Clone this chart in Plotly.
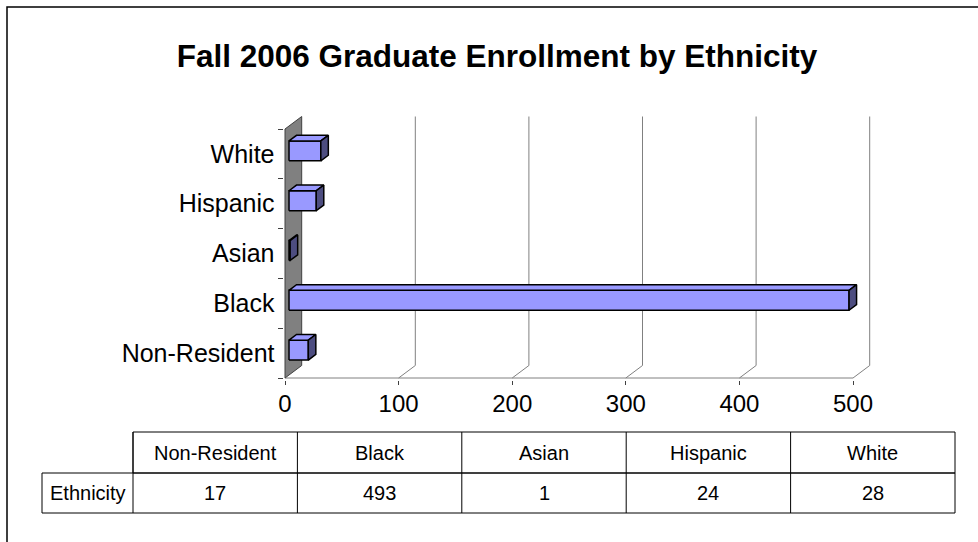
import plotly.graph_objects as go

# data
categories = ["Non-Resident", "Black", "Asian", "Hispanic", "White"]
enrollment = [17, 493, 1, 24, 28]
row_label = "Ethnicity"
x_ticks = [0, 100, 200, 300, 400, 500]
title = "Fall 2006 Graduate Enrollment by Ethnicity"

W, H = 978, 542
FONT = "Liberation Sans, Arial, sans-serif"


def pxx(x):
    return x / W


def pxy(y):
    return 1 - y / H


# pixel frame of the (front) plot area
X0_PX, X500_PX = 285, 853
Y_BOT_PX, Y_TOP_PX = 378, 129
sx = (X500_PX - X0_PX) / 500.0
sy = (Y_BOT_PX - Y_TOP_PX) / len(categories)

L, R = 283.5, 885
B, T = 379.5, 105
x_range = [(L - X0_PX) / sx, (R - X0_PX) / sx]
y_range = [-0.5 - (B - Y_BOT_PX) / sy, -0.5 + (Y_BOT_PX - T) / sy]

# fake 3d depth (in data units)
DX = 16.7 / sx
DY = 12.5 / sy
F1, F2 = 0.24, 0.69
HALF = 0.2

n = len(categories)
y_lo, y_hi = -0.5, n - 0.5

fig = go.Figure()

# floor slants + back gridlines
gx, gy = [], []
for v in x_ticks[1:]:
    gx += [v, v + DX, v + DX, None]
    gy += [y_lo, y_lo + DY, y_hi + DY, None]
fig.add_trace(go.Scatter(x=gx, y=gy, mode="lines",
                         line=dict(color="#808080", width=1), hoverinfo="skip"))

# front baseline
fig.add_trace(go.Scatter(x=[x_ticks[0], x_ticks[-1]], y=[y_lo, y_lo], mode="lines",
                         line=dict(color="#808080", width=1), hoverinfo="skip"))

# side wall
fig.add_trace(go.Scatter(x=[0, DX, DX, 0, 0], y=[y_lo, y_lo + DY, y_hi + DY, y_hi, y_lo],
                         mode="lines", fill="toself", fillcolor="#808080",
                         line=dict(color="#404040", width=1), hoverinfo="skip"))

# bars: front, top and side faces
fx, fy, tx, ty, rx, ry = [], [], [], [], [], []
ox1, oy1 = F1 * DX, F1 * DY
ox2, oy2 = F2 * DX, F2 * DY
for i, v in enumerate(enrollment):
    lo, hi = i - HALF, i + HALF
    fx += [ox1, v + ox1, v + ox1, ox1, ox1, None]
    fy += [lo + oy1, lo + oy1, hi + oy1, hi + oy1, lo + oy1, None]
    tx += [ox1, v + ox1, v + ox2, ox2, ox1, None]
    ty += [hi + oy1, hi + oy1, hi + oy2, hi + oy2, hi + oy1, None]
    rx += [v + ox1, v + ox2, v + ox2, v + ox1, v + ox1, None]
    ry += [lo + oy1, lo + oy2, hi + oy2, hi + oy1, lo + oy1, None]

for xs, ys, col in [(fx, fy, "#9999FF"), (tx, ty, "#9999FF"), (rx, ry, "#4D4D80")]:
    fig.add_trace(go.Scatter(x=xs, y=ys, mode="lines", fill="toself", fillcolor=col,
                             line=dict(color="#000000", width=1.5), hoverinfo="skip"))

fig.update_xaxes(
    domain=[pxx(L), pxx(R)], range=x_range, showgrid=False, zeroline=False,
    showline=False, tickmode="array", tickvals=x_ticks, ticks="outside",
    ticklen=4.5, tickcolor="#404040", tickfont=dict(family=FONT, size=24, color="#000"),
    ticklabelstandoff=-2, automargin=False,
)
fig.update_yaxes(
    domain=[pxy(B), pxy(T)], range=y_range, showgrid=False, zeroline=False,
    showline=False, tickmode="array", tickvals=list(range(n)), ticktext=categories,
    ticks="", tickfont=dict(family=FONT, size=25, color="#000"), ticklabelstandoff=8,
    minor=dict(tickmode="array", tickvals=[k - 0.5 for k in range(n + 1)],
               ticks="outside", ticklen=4.5, tickcolor="#404040", showgrid=False),
    automargin=False,
)

# data table below the chart
col_edges = [133 + k * (955 - 133) / n for k in range(n + 1)]
row_top, row_mid, row_bot = 432, 473, 513
first_left = 42
line = dict(color="#000000", width=1)
shapes = [
    # outer chart border
    dict(type="rect", xref="paper", yref="paper", x0=pxx(7), y0=-0.02, x1=1.02, y1=pxy(7),
         line=dict(color="#000000", width=1.5)),
    dict(type="rect", xref="paper", yref="paper", x0=pxx(col_edges[0]), x1=pxx(col_edges[-1]),
         y0=pxy(row_mid), y1=pxy(row_top), line=line),
    dict(type="rect", xref="paper", yref="paper", x0=pxx(first_left), x1=pxx(col_edges[-1]),
         y0=pxy(row_bot), y1=pxy(row_mid), line=line),
]
for xe in col_edges[:-1]:
    shapes.append(dict(type="line", xref="paper", yref="paper", x0=pxx(xe), x1=pxx(xe),
                       y0=pxy(row_bot), y1=pxy(row_top), line=line))

annotations = []
tfont = dict(family=FONT, size=20, color="#000")
cell = dict(xref="paper", yref="paper", showarrow=False, font=tfont,
            xanchor="center", yanchor="middle")
for k, (cat, v) in enumerate(zip(categories, enrollment)):
    cx = (col_edges[k] + col_edges[k + 1]) / 2
    annotations.append(dict(x=pxx(cx), y=pxy((row_top + row_mid) / 2), text=cat, **cell))
    annotations.append(dict(x=pxx(cx), y=pxy((row_mid + row_bot) / 2), text=str(v), **cell))
annotations.append(dict(x=pxx((first_left + col_edges[0]) / 2), y=pxy((row_mid + row_bot) / 2),
                        text=row_label, **cell))

fig.update_layout(
    width=W, height=H, margin=dict(l=0, r=0, t=0, b=0),
    paper_bgcolor="white", plot_bgcolor="white", showlegend=False,
    title=dict(text=f"<b>{title}</b>", x=pxx(497), y=pxy(56), xanchor="center", yanchor="middle",
               font=dict(family=FONT, size=31.5, color="#000")),
    shapes=shapes, annotations=annotations,
)

fig.write_html("out.html", config={"displayModeBar": False},
               post_script="document.body.style.margin = '0';")
